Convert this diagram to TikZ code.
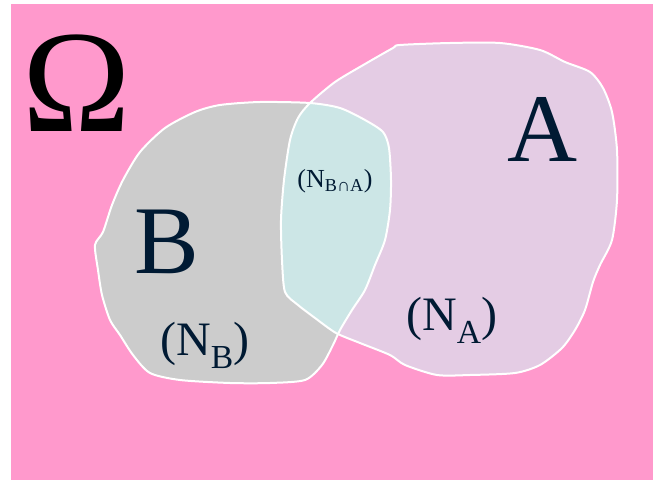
\documentclass[tikz,border=0pt]{standalone}
\usepackage{fontspec}
\setmainfont{Liberation Serif}
\definecolor{fondrose}{RGB}{255,153,204}
\definecolor{grisB}{RGB}{204,204,204}
\definecolor{mauveA}{RGB}{228,204,228}
\definecolor{cyanAB}{RGB}{204,230,230}
\definecolor{encre}{RGB}{0,26,51}
\tikzset{
  bord/.style={draw=white, line width=2pt, line join=round},
  lettre/.style={text=encre, anchor=base, inner sep=0pt},
}
% contours des deux ensembles
\def\contourA{plot[smooth cycle, tension=0.45] coordinates {(310,103) (335,82) (365,64) (393,48) (400,45) (450,43) (500,43) (540,50) (565,62) (590,72) (603,88) (612,112) (617,150) (617,200) (612,240) (600,265) (593,282) (585,310) (575,330) (562,348) (540,365) (515,373) (470,375) (437,375) (405,365) (390,355) (360,343) (336,333) (315,318) (298,305) (285,292) (282,260) (281,220) (284,180) (290,140) (298,118)}}
\def\contourB{plot[smooth cycle, tension=0.45] coordinates {(310,103) (340,108) (365,120) (383,132) (389,148) (391,180) (390,210) (385,240) (375,265) (365,290) (352,310) (340,330) (333,345) (322,365) (305,380) (270,383) (230,383) (180,380) (150,373) (133,355) (120,335) (110,320) (102,295) (98,270) (95,245) (103,232) (112,205) (123,180) (140,152) (165,128) (195,112) (220,105) (260,102)}}
\begin{document}
\begin{tikzpicture}[x=1pt, y=-1pt]
        \useasboundingbox (0,0) rectangle (653,481);
        % Univers
        \fill[fondrose] (11,4) rectangle (653,480);
        % Ensembles B et A
        \fill[grisB] \contourB;
        \fill[mauveA] \contourA;
        % Intersection
        \begin{scope}
            \clip \contourB;
            \fill[cyanAB] \contourA;
        \end{scope}
        \draw[bord] \contourB;
        \draw[bord] \contourA;
        % Textes
        \node[lettre, text=black, font=\fontsize{146}{146}\selectfont] (omega) at (77,132) {Ω};
        \node[lettre, font=\fontsize{97}{97}\selectfont] (lettreA) at (543,162) {A};
        \node[lettre, font=\fontsize{97}{97}\selectfont] (lettreB) at (167,273) {B};
        \node[lettre, font=\fontsize{48}{48}\selectfont] (nB) at (205,355) {(N\textsubscript{B})};
        \node[lettre, font=\fontsize{48}{48}\selectfont] (nA) at (452,330) {(N\textsubscript{A})};
        \node[lettre, font=\fontsize{26}{26}\selectfont] (nBA) at (335,188) {(N\textsubscript{B∩A})};
\end{tikzpicture}
\end{document}
